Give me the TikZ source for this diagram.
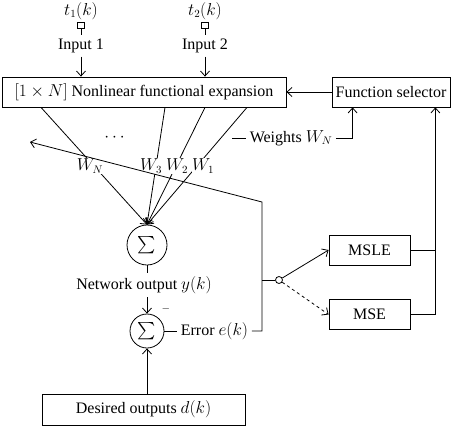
\documentclass[tikz,border=0pt]{standalone}
\usepackage{amsmath}
\usepackage{fontspec}
\setmainfont{Liberation Serif}
\usetikzlibrary{arrows.meta,positioning}

\tikzset{
  blockbox/.style={draw, minimum height=30pt, inner sep=2pt},
  sumnode/.style={draw, circle, inner sep=0pt},
  termbox/.style={draw, minimum width=7pt, minimum height=6pt, inner sep=0pt},
  arr/.style={-{Straight Barb[length=5pt,width=9pt]}},
  wlabel/.style={fill=white, inner sep=0.5pt},
}

\begin{document}
\begin{tikzpicture}[x=1pt, y=-1pt, line width=0.8pt, font=\fontsize{16}{19}\selectfont]
\useasboundingbox (0,0) rectangle (452,428);

% === Inputs ===
\node (t1) at (81,11) {$t_1(k)$};
\node[termbox] (sq1) at (81,25) {};
\node (in1) at (81,46) {Input 1};
\node (t2) at (205,11) {$t_2(k)$};
\node[termbox] (sq2) at (205,25) {};
\node (in2) at (205,46) {Input 2};

% === Blocks ===
\node[blockbox, minimum width=284pt] (exp) at (144,92) {$[1\times N]$ Nonlinear functional expansion};
\node[blockbox, minimum width=118pt] (fsel) at (391,92) {Function selector};
\node[blockbox, minimum width=81pt] (msle) at (369.5,250) {MSLE};
\node[blockbox, minimum width=81pt] (mse) at (369.5,314.5) {MSE};
\node[blockbox, minimum width=203pt, minimum height=31pt] (des) at (143.5,409.5) {Desired outputs $d(k)$};

% === Summing junctions ===
\node[sumnode, minimum size=40pt] (s1) at (147,245) {\fontsize{16}{19}\selectfont$\sum$};
\node[sumnode, minimum size=34pt] (s2) at (147,331) {\fontsize{16}{19}\selectfont$\sum$};
\node (minus) at (166,309) {\fontsize{11}{12}\selectfont$-$};

% === Labels ===
\node (dots) at (116,138) {$\cdots$};
\node (wts) at (291,138) {Weights $W_N$};
\node (net) at (144,285) {Network output $y(k)$};
\node (err) at (214.5,331) {Error $e(k)$};

% === Switch ===
\node[draw, circle, minimum size=7pt, inner sep=0pt] (sw) at (279,280) {};

% === Coordinates ===
\coordinate (wlead) at (232,138);
\coordinate (bus) at ([xshift=-15pt]fsel.south east);
\coordinate (ebot) at (262,331);
\coordinate (etap) at (262,280);
\coordinate (etop) at (262,202);
\coordinate (etip) at (30,142);

% === Input connectors ===
\draw (sq1) -- (in1);
\draw (sq2) -- (in2);
\draw[arr] (in1.south) -- (in1.south |- exp.north);
\draw[arr] (in2.south) -- (in2.south |- exp.north);
\draw[arr] (fsel.west) -- (exp.east);

% === Weighted links ===
\draw[arr] (exp.south -| 41,0) -- node[wlabel, pos=0.5, xshift=-4pt] {$W_N$} (s1.north);
\draw[arr] (exp.south -| 165,0) -- node[wlabel, pos=0.5, xshift=-5pt] {$W_3$} (s1.north);
\draw[arr] (exp.south -| 205,0) -- node[wlabel, pos=0.5, xshift=1pt] {$W_2$} (s1.north);
\draw[arr] (exp.south -| 247,0) -- node[wlabel, pos=0.5, xshift=6pt] {$W_1$} (s1.north);

% === Weights to selector ===
\draw (wlead) -- (wts.west);
\draw[arr] (wts.east) -| ([xshift=21pt]fsel.south west);

% === Output and error ===
\draw (s1.south) -- (s1.south |- net.north);
\draw[arr] (s2.north |- net.south) -- (s2.north);
\draw[arr] (s2.south |- des.north) -- (s2.south);
\draw (s2.east) -- (err.west);
\draw[arr] (err.east) -- (ebot) -- (etop) -- (etip);

% === Error criteria ===
\draw (etap) -- (sw.west);
\draw[arr] (sw) -- (msle.west);
\draw[arr, dashed] (sw) -- (mse.west);
\draw (msle.east) -- (msle.east -| bus);
\draw[arr] (mse.east) -| (bus);

\end{tikzpicture}
\end{document}
